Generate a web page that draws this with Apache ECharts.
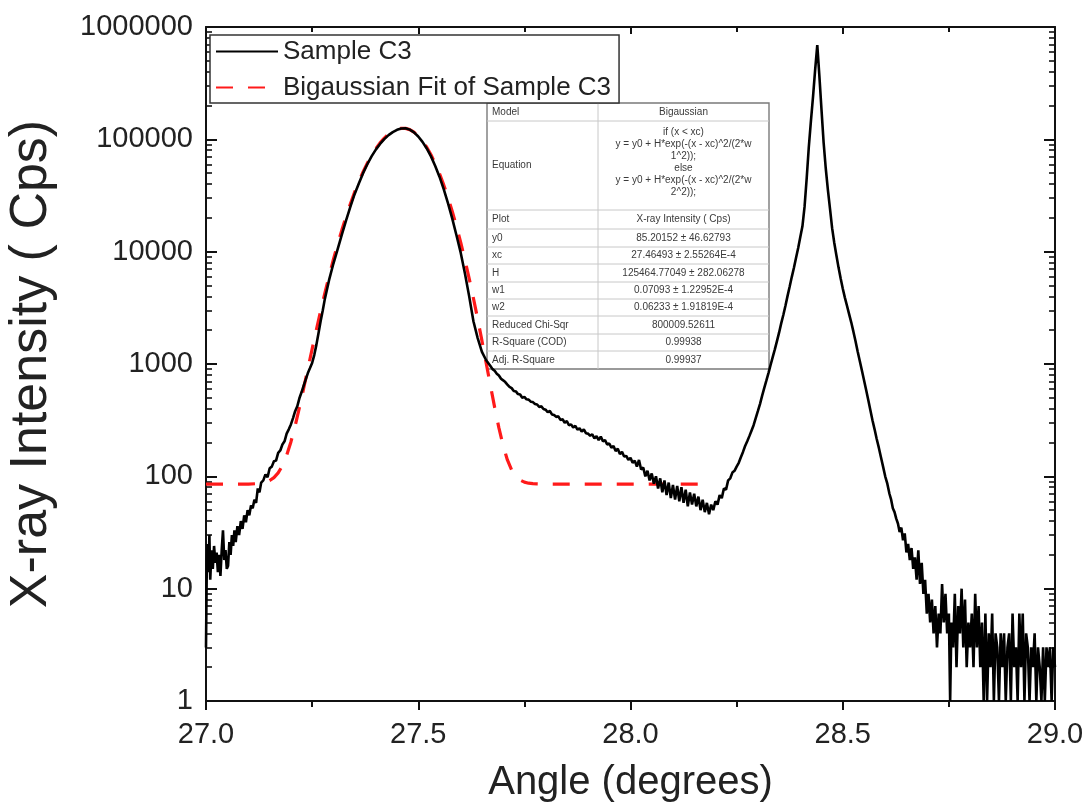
<!DOCTYPE html>
<html><head><meta charset="utf-8">
<script src="https://cdn.jsdelivr.net/npm/echarts@6/dist/echarts.min.js"></script>
<style>html,body{margin:0;padding:0;background:#fff}#c{width:1087px;height:812px}</style>
</head><body><div id="c"></div>
<script>
// ---------- data ----------
const sampleAngle = [
27.000,27.002,27.004,27.006,27.008,27.010,27.013,27.016,27.019,27.022,
27.025,27.028,27.031,27.034,27.037,27.040,27.043,27.046,27.049,27.052,
27.055,27.058,27.061,27.064,27.067,27.070,27.074,27.078,27.082,27.086,
27.090,27.094,27.098,27.102,27.106,27.110,
27.114,27.118,27.122,27.126,27.130,27.135,27.140,27.145,27.150,27.155,
27.160,27.165,27.170,27.175,27.180,27.185,27.190,27.195,27.200,27.205,
27.210,27.215,27.220,27.225,27.230,27.235,27.240,27.245,27.250,27.255,
27.260,27.265,27.270,27.275,27.280,
27.29,27.30,27.31,27.32,27.33,27.34,27.35,27.36,27.37,27.38,
27.39,27.40,27.41,27.42,27.43,27.44,27.45,27.46,27.47,27.48,
27.49,27.50,27.51,27.52,27.53,27.54,27.55,27.56,27.57,27.58,
27.59,27.60,27.61,27.62,27.63,27.64,27.65,27.66,27.67,
27.675,27.680,27.685,27.690,27.695,27.700,27.705,27.710,27.715,27.720,
27.725,27.730,27.735,27.740,27.745,27.750,27.755,27.760,27.765,27.770,
27.775,27.780,27.785,27.790,27.795,27.800,27.805,27.810,27.815,27.820,
27.825,27.830,27.835,27.840,27.845,27.850,27.855,27.860,27.865,27.870,
27.875,27.880,27.885,27.890,27.895,27.900,27.905,27.910,27.915,27.920,
27.925,27.930,27.935,27.940,27.945,27.950,27.955,27.960,27.965,27.970,
27.975,27.980,27.985,27.990,27.995,28.000,28.005,28.010,28.015,28.020,
28.025,28.030,28.035,28.040,28.045,28.050,28.055,28.060,28.065,28.070,
28.075,28.080,28.085,28.090,28.095,28.100,28.105,28.110,28.115,28.120,
28.125,28.130,28.135,28.140,28.145,28.150,28.155,28.160,28.165,28.170,
28.175,28.180,28.185,28.190,28.195,28.200,
28.205,28.210,28.215,28.220,28.225,28.230,28.235,28.240,28.245,28.250,
28.255,28.260,28.265,28.270,28.275,28.280,28.285,28.290,28.295,28.300,
28.305,28.310,28.315,28.320,28.325,28.330,28.335,28.340,28.345,28.350,
28.355,28.360,28.365,28.370,28.375,28.380,28.385,28.390,28.395,28.400,
28.405,28.410,28.415,28.420,28.425,28.430,28.435,28.440,28.445,28.450,
28.455,28.460,28.465,28.470,28.475,28.480,28.485,28.490,28.495,28.500,
28.505,28.510,28.515,28.520,28.525,28.530,28.535,28.540,28.545,28.550,
28.555,28.560,28.565,28.570,28.575,28.580,28.585,28.590,28.595,28.600,
28.605,28.610,
28.614,28.618,28.622,28.626,28.630,28.634,28.638,28.642,28.646,28.650,
28.654,28.658,28.662,28.666,28.670,28.674,28.678,28.682,28.686,28.690,
28.694,28.698,28.702,28.706,28.710,28.714,28.718,28.722,28.726,28.730,
28.734,28.738,28.742,28.746,28.750,
28.753,28.756,28.760,28.764,28.768,28.772,28.776,28.780,28.784,28.788,
28.792,28.796,28.800,28.804,28.808,28.812,28.816,28.820,28.824,28.828,
28.832,28.836,28.840,28.844,28.848,28.852,28.856,28.860,28.864,28.868,
28.872,28.876,28.880,28.884,28.888,28.892,28.896,28.900,28.904,28.908,
28.912,28.916,28.920,28.924,28.928,28.932,28.936,28.940,28.944,28.948,
28.952,28.956,28.960,28.964,28.968,28.972,28.976,28.980,28.984,28.988,
28.992,28.996,29.000
];
const sampleIntensity = [
3,18,25,14,30,12,22,15,24,17,
21,14,20,13,22,33,18,22,15,16,
26,20,30,24,33,26,36,30,40,34,
45,39,50,45,55,52,
62,58,78,72,88,92,104,98,118,122,
136,138,162,170,192,205,240,262,290,330,
380,420,495,560,640,730,830,920,1020,1200,
1480,1880,2400,3000,3800,
5600,7800,10500,14200,19000,25000,32500,40500,50000,60000,
70500,81000,91000,100500,109000,116000,121500,125000,125500,122000,
115500,106000,95000,83000,70500,58000,46500,36000,27000,19800,
14000,9800,6400,4000,2400,1700,1280,1080,960,
900,870,820,790,740,715,690,655,625,610,
575,570,540,535,500,510,485,482,462,458,
440,436,415,420,398,392,372,382,356,352,
338,342,318,322,300,310,285,290,272,282,
260,268,250,262,242,240,230,236,218,228,
210,226,205,210,192,196,180,186,168,176,
158,165,150,152,140,146,132,138,122,140,
115,120,100,112,92,106,86,100,78,96,
72,92,68,88,64,84,62,82,60,80,
58,76,54,72,56,70,54,66,50,62,
48,58,46,56,50,60,
56,68,64,78,76,92,96,108,112,122,
132,148,165,186,205,228,255,285,330,380,
440,520,610,710,830,980,1150,1350,1600,1900,
2300,2730,3300,4040,4900,5970,7200,8830,10800,13500,
16800,25000,44700,85000,145000,240000,417000,690000,363000,182000,
93000,55000,35500,24000,16200,12000,9300,7250,5800,4700,
3900,3300,2780,2350,1950,1600,1300,1070,880,720,
590,480,390,316,262,215,180,148,122,100,
86,70,
62,52,48,42,38,32,35,27,31,21,
25,18,23,15,19,12,22,11,17,9,
12,6,9,5,8,4,7,3,6,4,
11,5,9,4,6,
1,5,3,9,2,7,4,10,3,8,
2,5,3,6,2,9,3,7,2,5,
1,6,1,4,2,6,1,4,3,1,
4,2,4,1,3,4,1,6,2,3,
1,6,2,6,1,4,3,1,3,2,
4,1,3,2,1,3,1,3,2,3,
1,3,2
];
const fitAngle = [
27.00,27.05,27.10,27.12,27.14,27.15,27.16,27.17,27.18,27.19,
27.20,27.21,27.22,27.23,27.24,27.25,27.26,27.27,27.28,27.29,
27.30,27.31,27.32,27.33,27.34,27.35,27.36,27.37,27.38,27.39,
27.40,27.41,27.42,27.43,27.44,27.45,27.46,27.465,27.47,27.48,
27.49,27.50,27.51,27.52,27.53,27.54,27.55,27.56,27.57,27.58,
27.59,27.60,27.61,27.62,27.63,27.64,27.65,27.66,27.67,27.68,
27.69,27.70,27.71,27.72,27.73,27.74,27.75,27.76,27.77,27.78,
27.79,27.80,28.00,28.16
];
const fitIntensity = [
85.2,85.2,85.4,86.1,88.7,91.8,97.4,107.3,124.4,153.7,
202.5,282,408,606,907,1358,2016,2959,4277,6080,
8490,11632,15560,20550,26600,33850,42000,51330,61270,71900,
82520,93040,102660,111220,117950,122800,125160,125550,125130,121940,
115800,107180,96700,85010,72840,60830,49520,39290,30390,22910,
16850,12080,8446,5767,3849,2513,1613,1021,644,411,
270,187,140,114,100,92.6,88.8,86.9,86.0,85.8,
85.5,85.3,85.2,85.2
];
const seriesNames = ['Sample C3', 'Bigaussian Fit of Sample C3'];
const xTickLabels = ['27.0', '27.5', '28.0', '28.5', '29.0'];
const yTickLabels = ['1', '10', '100', '1000', '10000', '100000', '1000000'];
const minorMultipliers = [2, 3, 4, 5, 6, 7, 8, 9];
const tableLabels = ['Model', 'Equation', 'Plot', 'y0', 'xc', 'H', 'w1', 'w2', 'Reduced Chi-Sqr', 'R-Square (COD)', 'Adj. R-Square'];
const tableValues = ['Bigaussian',
  'if (x < xc)\ny = y0 + H*exp(-(x - xc)^2/(2*w\n1^2));\nelse\ny = y0 + H*exp(-(x - xc)^2/(2*w\n2^2));',
  'X-ray Intensity ( Cps)', '85.20152 \u00b1 46.62793', '27.46493 \u00b1 2.55264E-4',
  '125464.77049 \u00b1 282.06278', '0.07093 \u00b1 1.22952E-4', '0.06233 \u00b1 1.91819E-4',
  '800009.52611', '0.99938', '0.99937'];

// ---------- chart ----------
const FONT = '"Liberation Sans", Arial, sans-serif';
const sampleData = sampleAngle.map((a, i) => [a, sampleIntensity[i]]);
const fitData = fitAngle.map((a, i) => [a, fitIntensity[i]]);
const decades = yTickLabels.map(Number);
const minorTickValues = [];
decades.slice(0, -1).forEach(d => minorMultipliers.forEach(m => minorTickValues.push(d * m)));

// table layout (graphic overlay)
const tLeft = 487, tRight = 769, tMid = 598;
const rowEdges = [103, 121, 210, 229, 247, 264, 282, 299, 316, 334, 351, 369];
const tableEls = [];
tableEls.push({type: 'rect', shape: {x: tLeft, y: rowEdges[0], width: tRight - tLeft, height: rowEdges[rowEdges.length - 1] - rowEdges[0]},
  style: {fill: '#fff', stroke: '#7a7a7a', lineWidth: 1.4}});
tableEls.push({type: 'line', shape: {x1: tMid, y1: rowEdges[0], x2: tMid, y2: rowEdges[rowEdges.length - 1]}, style: {stroke: '#c8c8c8', lineWidth: 1}});
for (let i = 1; i < rowEdges.length - 1; i++) {
  tableEls.push({type: 'line', shape: {x1: tLeft, y1: rowEdges[i], x2: tRight, y2: rowEdges[i]}, style: {stroke: '#c8c8c8', lineWidth: 1}});
}
for (let i = 0; i < tableLabels.length; i++) {
  const cy = (rowEdges[i] + rowEdges[i + 1]) / 2;
  tableEls.push({type: 'text', x: tLeft + 5, y: cy, style: {text: tableLabels[i], fill: '#3a3a3a', font: '10px ' + FONT, textAlign: 'left', textVerticalAlign: 'middle'}});
  tableEls.push({type: 'text', x: (tMid + tRight) / 2, y: cy - (i === 1 ? 3 : 0), style: {text: tableValues[i], fill: '#3a3a3a', font: '10px ' + FONT, textAlign: 'center', textVerticalAlign: 'middle', lineHeight: 12}});
}

const axisLine = {show: true, lineStyle: {color: '#111', width: 2}};
const noLine = {show: false};
function logAxis(pos, major, withLabels) {
  const ax = {
    type: 'log', logBase: 10, min: 1, max: 1000000, position: pos,
    axisLine: major ? axisLine : noLine,
    axisTick: major
      ? {show: true, inside: true, length: 11, lineStyle: {color: '#111', width: 2}}
      : {show: true, inside: true, length: 6, customValues: minorTickValues, lineStyle: {color: '#111', width: 1.6}},
    minorTick: {show: false},
    axisLabel: {show: false},
    splitLine: {show: false}
  };
  if (withLabels) {
    ax.axisLabel = {show: true, fontSize: 29, color: '#222', fontFamily: FONT, margin: 13,
      formatter: v => yTickLabels[Math.round(Math.log10(v))]};
    ax.name = 'X-ray Intensity ( Cps)';
    ax.nameLocation = 'middle';
    ax.nameGap = 148;
    ax.nameTextStyle = {fontSize: 52, color: '#222', fontFamily: FONT};
  }
  return ax;
}

const option = {
  animation: false,
  backgroundColor: '#fff',
  grid: {left: 206, right: 32, top: 27, bottom: 111, containLabel: false, outerBoundsMode: 'none'},
  legend: {
    orient: 'vertical', left: 210, top: 35,
    data: seriesNames,
    itemWidth: 62, itemHeight: 14, itemGap: 9,
    padding: [3, 8, 2, 5],
    borderColor: '#333', borderWidth: 1.5, backgroundColor: '#fff',
    itemStyle: {color: 'rgba(0,0,0,0)', borderColor: 'rgba(0,0,0,0)', borderWidth: 0},
    textStyle: {fontSize: 26, color: '#222', fontFamily: FONT, lineHeight: 27}
  },
  xAxis: [{
    type: 'value', min: 27, max: 29, interval: 0.5, position: 'bottom',
    axisLine: axisLine,
    axisTick: {show: true, inside: false, length: 9, lineStyle: {color: '#111', width: 2}},
    minorTick: {show: true, splitNumber: 2, length: 6, lineStyle: {color: '#111', width: 2}},
    axisLabel: {fontSize: 29, color: '#222', fontFamily: FONT, margin: 19,
      formatter: v => xTickLabels[Math.round((v - 27) / 0.5)]},
    splitLine: {show: false},
    name: 'Angle (degrees)', nameLocation: 'middle', nameGap: 62,
    nameTextStyle: {fontSize: 40, color: '#222', fontFamily: FONT}
  }, {
    type: 'value', min: 27, max: 29, interval: 0.5, position: 'top',
    axisLine: axisLine,
    axisTick: {show: true, inside: true, length: 7, lineStyle: {color: '#111', width: 2}},
    minorTick: {show: true, splitNumber: 2, length: 5, lineStyle: {color: '#111', width: 2}},
    axisLabel: {show: false}, splitLine: {show: false}
  }],
  yAxis: [logAxis('left', true, true), logAxis('right', true, false),
          logAxis('left', false, false), logAxis('right', false, false)],
  series: [{
    name: seriesNames[0], type: 'line', data: sampleData, xAxisIndex: 0, yAxisIndex: 0,
    showSymbol: false, symbol: 'none', lineStyle: {color: '#000', width: 2.6}, itemStyle: {color: '#000'},
    z: 3
  }, {
    name: seriesNames[1], type: 'line', data: fitData, xAxisIndex: 0, yAxisIndex: 0,
    showSymbol: false, symbol: 'none', smooth: false,
    lineStyle: {color: '#ff1a1a', width: 3.2, type: [17, 15]}, itemStyle: {color: '#ff1a1a'},
    z: 2
  }],
  graphic: {elements: [{type: 'group', z: 100, children: tableEls}]}
};
const chart = echarts.init(document.getElementById('c'));
chart.setOption(option);
</script>
</body></html>
